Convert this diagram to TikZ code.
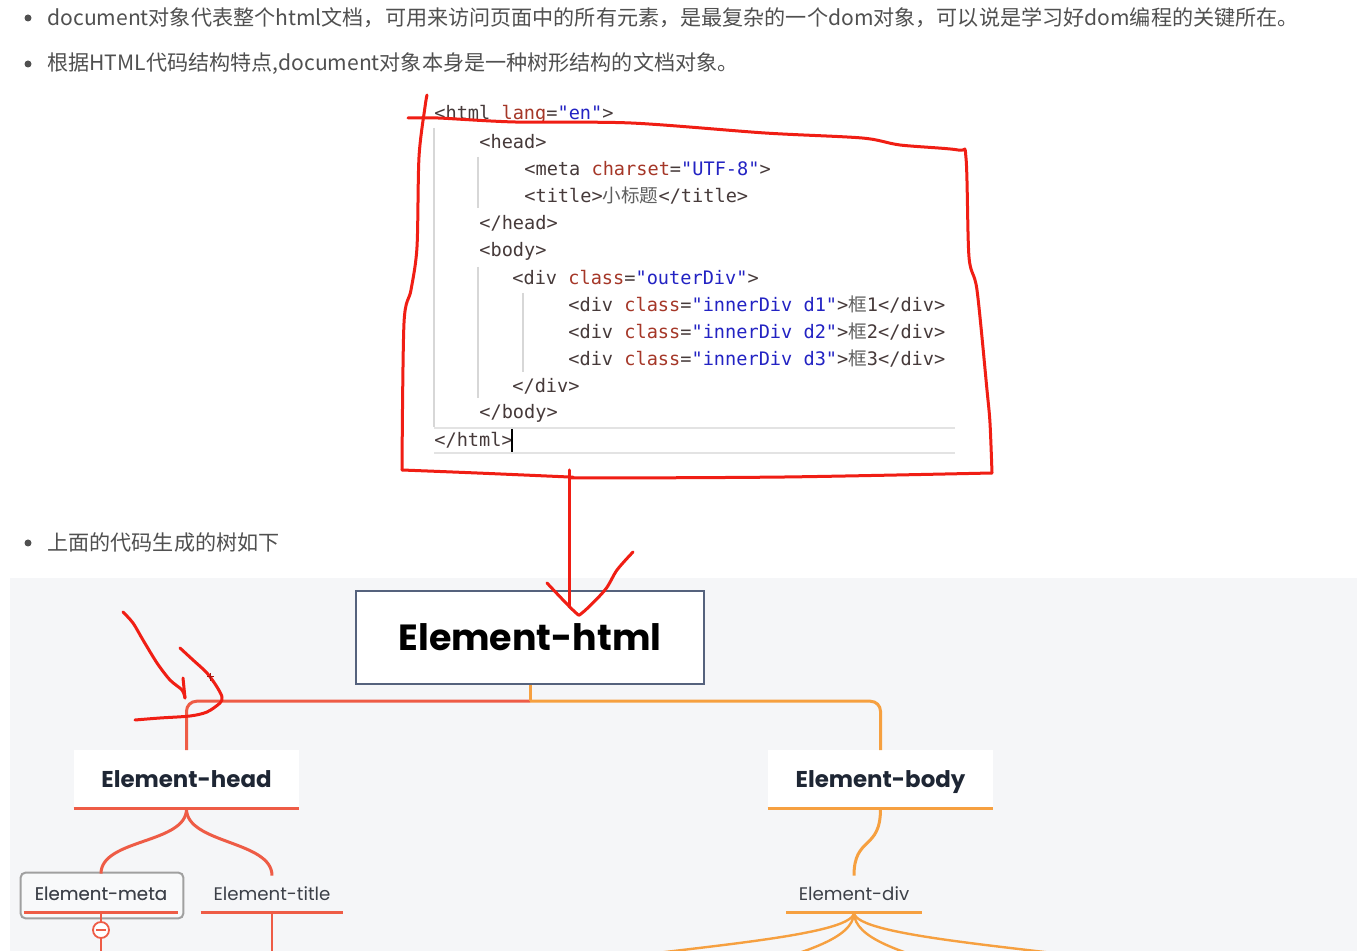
\documentclass[tikz,border=0pt]{standalone}
\usepackage{fontspec}
\setmainfont{Noto Sans CJK SC}
\newfontfamily\cjk{Noto Sans CJK SC}
\newfontfamily\codefont{DejaVu Sans Mono}
\newfontfamily\pop{Poppins}
\usetikzlibrary{calc}
\definecolor{txt}{RGB}{80,80,80}
\definecolor{ct}{RGB}{70,58,58}
\definecolor{ca}{RGB}{165,55,40}
\definecolor{cv}{RGB}{35,35,195}
\definecolor{czh}{RGB}{95,95,95}
\definecolor{guide}{RGB}{215,215,215}
\definecolor{panel}{RGB}{245,246,248}
\definecolor{coral}{RGB}{238,92,70}
\definecolor{orng}{RGB}{246,160,64}
\definecolor{slate}{RGB}{85,98,125}
\definecolor{navy}{RGB}{30,38,52}
\definecolor{subtxt}{RGB}{60,64,72}
\definecolor{pen}{RGB}{240,30,20}
\definecolor{framegray}{RGB}{160,160,160}
\newcommand\zh[1]{{\cjk\textcolor{czh}{#1}}}
\begin{document}
\begin{tikzpicture}[x=0.5pt,y=-0.5pt,
  toptext/.style={anchor=west,inner sep=0pt,text=txt,font=\fontsize{10.55}{13}\selectfont},
  bulletdot/.style={circle,fill=txt,inner sep=0pt,minimum size=3.5pt},
  codeline/.style={anchor=west,inner sep=0pt,font=\codefont\fontsize{9.3}{11}\selectfont},
  guideline/.style={draw=guide,line width=0.6pt},
  htmlbox/.style={draw=slate,line width=1.25pt,fill=white,minimum width=174pt,minimum height=46.5pt,font=\pop\bfseries\fontsize{18.2}{22}\selectfont,text=black,text height=13.4pt,text depth=0pt},
  mainbox/.style={fill=white,minimum width=112.5pt,minimum height=29pt,inner sep=0pt,font=\pop\bfseries\fontsize{11.45}{14}\selectfont,text=navy,text height=8.5pt,text depth=0pt},
  subnode/.style={minimum height=18pt,inner sep=0pt,font=\pop\fontsize{9.1}{11}\selectfont,text=subtxt,text height=6.7pt,text depth=0pt},
  coralline/.style={draw=coral,line width=1.5pt},
  orangeline/.style={draw=orng,line width=1.5pt},
  redpen/.style={draw=pen,line width=1.5pt,line cap=round,line join=round}
]
\useasboundingbox (0,0) rectangle (1357,951);
\fill[white] (0,0) rectangle (1357,951);

% ---- top text
\node[bulletdot] (b1) at (28,18) {};
\node[toptext] (t1) at (47,18) {document对象代表整个html文档，可用来访问页面中的所有元素，是最复杂的一个dom对象，可以说是学习好dom编程的关键所在。};
\node[bulletdot] (b2) at (28,64) {};
\node[toptext] (t2) at (47,64) {根据HTML代码结构特点,document对象本身是一种树形结构的文档对象。};
\node[bulletdot] (b3) at (28,543) {};
\node[toptext] (t3) at (47,543) {上面的代码生成的树如下};

% ---- code block
\draw[guideline] (434,128) -- (434,427);
\draw[guideline] (478,157) -- (478,208);
\draw[guideline] (478,267) -- (478,398);
\draw[guideline] (523,293) -- (523,372);
\draw[draw=guide!70,line width=0.6pt] (434,428) -- (955,428);
\draw[draw=guide!70,line width=0.6pt] (434,453) -- (955,453);
\node[codeline] (c1) at (434,114) {\textcolor{ct}{<html }\textcolor{ca}{lang}\textcolor{ct}{=}\textcolor{cv}{"en"}\textcolor{ct}{>}};
\node[codeline] (c2) at (479,142) {\textcolor{ct}{<head>}};
\node[codeline] (c3) at (524,169) {\textcolor{ct}{<meta }\textcolor{ca}{charset}\textcolor{ct}{=}\textcolor{cv}{"UTF-8"}\textcolor{ct}{>}};
\node[codeline] (c4) at (524,196) {\textcolor{ct}{<title>}\zh{小标题}\textcolor{ct}{</title>}};
\node[codeline] (c5) at (479,223) {\textcolor{ct}{</head>}};
\node[codeline] (c6) at (479,251) {\textcolor{ct}{<body>}};
\node[codeline] (c7) at (512,278) {\textcolor{ct}{<div }\textcolor{ca}{class}\textcolor{ct}{=}\textcolor{cv}{"outerDiv"}\textcolor{ct}{>}};
\node[codeline] (c8) at (568,305) {\textcolor{ct}{<div }\textcolor{ca}{class}\textcolor{ct}{=}\textcolor{cv}{"innerDiv d1"}\textcolor{ct}{>}\zh{框}\textcolor{ct}{1</div>}};
\node[codeline] (c9) at (568,332) {\textcolor{ct}{<div }\textcolor{ca}{class}\textcolor{ct}{=}\textcolor{cv}{"innerDiv d2"}\textcolor{ct}{>}\zh{框}\textcolor{ct}{2</div>}};
\node[codeline] (c10) at (568,359) {\textcolor{ct}{<div }\textcolor{ca}{class}\textcolor{ct}{=}\textcolor{cv}{"innerDiv d3"}\textcolor{ct}{>}\zh{框}\textcolor{ct}{3</div>}};
\node[codeline] (c11) at (512,386) {\textcolor{ct}{</div>}};
\node[codeline] (c12) at (479,413) {\textcolor{ct}{</body>}};
\node[codeline] (c13) at (434,440) {\textcolor{ct}{</html>}};
\draw[black,line width=0.8pt] (512,429) -- (512,452);

% ---- tree panel
\fill[panel] (10,578) rectangle (1357,951);
\begin{scope}
\clip (10,578) rectangle (1357,951);
\node[htmlbox] (html) at (530,637.5) {Element-html};
\node[mainbox] (head) at (186.5,779.5) {Element-head};
\node[mainbox] (body) at (880.5,779.5) {Element-body};
\node[subnode,minimum width=77pt] (meta) at (101,894) {Element-meta};
\draw[framegray,line width=1pt,rounded corners=2.5pt,fill=white,fill opacity=0.35] ([xshift=-1.5pt,yshift=1.5pt]meta.north west) rectangle ([xshift=2.5pt,yshift=-3pt]meta.south east);
\node[subnode,minimum width=77pt] at (meta) {Element-meta};
\node[subnode,minimum width=71pt] (title) at (272,894) {Element-title};
\node[subnode,minimum width=67.5pt] (div) at (854,894) {Element-div};
\node[circle,draw=coral,line width=0.9pt,fill=white,minimum size=8pt,inner sep=0pt] (coll) at (101,930) {};
\draw[coral,line width=0.9pt] ([xshift=-2.3pt]coll.center) -- ([xshift=2.3pt]coll.center);

\coordinate (hj) at ($(html.south)+(0,16)$);
\coordinate (metaend) at (101,965);
\coordinate (titleend) at (272,965);
\coordinate (d1) at (560,966);
\coordinate (d2) at (760,966);
\coordinate (d3) at (945,966);
\coordinate (d4) at (1150,966);

\draw[coralline,rounded corners=5pt] (hj) -| (head.north);
\draw[orangeline,rounded corners=5pt] (hj) -| (body.north);
\draw[orangeline] (html.south) -- (hj);
\draw[coralline] (head.south west) -- (head.south east);
\draw[orangeline] (body.south west) -- (body.south east);
\draw[coralline] (head.south) .. controls +(0,35) and +(0,-35) .. ($(meta.north)+(0,-2)$);
\draw[coralline] (head.south) .. controls +(0,35) and +(0,-35) .. (title.north);
\draw[coralline] (meta.south west) -- (meta.south east);
\draw[coralline] (title.south west) -- (title.south east);
\draw[coralline,line width=1.1pt] (meta.south) -- (coll.north);
\draw[coralline,line width=1.1pt] (coll.south) -- (metaend);
\draw[coralline,line width=1.1pt] (title.south) -- (titleend);
\draw[orangeline] (body.south) .. controls +(0,42) and +(0,-40) .. (div.north);
\draw[orangeline] (div.south west) -- (div.south east);
\draw[orangeline,line width=1.2pt] (div.south) .. controls +(0,25) and +(110,-18) .. (d1);
\draw[orangeline,line width=1.2pt] (div.south) .. controls +(0,27) and +(40,-14) .. (d2);
\draw[orangeline,line width=1.2pt] (div.south) .. controls +(0,27) and +(-40,-14) .. (d3);
\draw[orangeline,line width=1.2pt] (div.south) .. controls +(0,25) and +(-110,-18) .. (d4);
\end{scope}

% ---- red annotations
\draw[redpen] plot[smooth,tension=0.5] coordinates {(408,118) (438,118) (515,122) (631,123) (765,133) (862,138) (900,145) (958,150) (966,158) (969,257) (977,290) (987,390) (990,423) (992,473)};
\draw[redpen] plot[smooth,tension=0.5] coordinates {(992,473) (785,477) (585,478) (569,477) (477,473) (402,470)};
\draw[redpen] plot[smooth,tension=0.5] coordinates {(402,470) (404,323) (411,290) (417,247) (419,157) (425,107) (427,95)};
\draw[redpen] (569,470) -- (569,607);
\draw[redpen] plot[smooth,tension=0.5] coordinates {(547,583) (575,612) (582,613) (605,590) (617,570) (633,552)};
\draw[redpen] plot[smooth,tension=0.5] coordinates {(123,612) (133,623) (143,640) (157,663) (170,680) (182,690) (185,698)};
\draw[redpen] (183,678) -- (185,698);
\draw[redpen] plot[smooth,tension=0.5] coordinates {(180,648) (193,660) (207,673) (217,687) (222,697) (220,703) (207,712) (190,716) (160,718) (135,720)};
\draw[pen!70!black,line width=0.5pt] (207,677) -- (214,677) (210.5,673) -- (210.5,681);
\end{tikzpicture}
\end{document}
